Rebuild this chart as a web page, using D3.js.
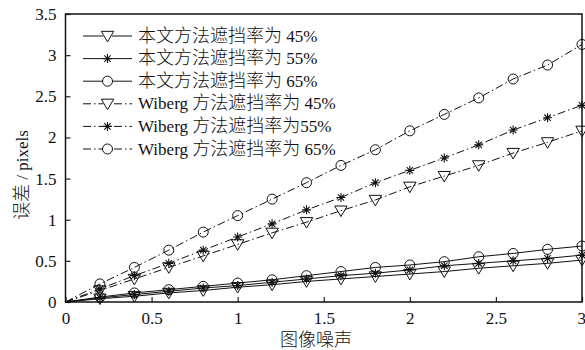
<!DOCTYPE html>
<html>
<head>
<meta charset="utf-8">
<script src="https://cdn.jsdelivr.net/npm/d3@7/dist/d3.min.js"></script>
<style>
  html, body { margin: 0; padding: 0; background: #fff; }
  svg text { font-family: "Liberation Serif", "Noto Sans CJK SC", serif; fill: #111; }
</style>
</head>
<body>
<svg id="chart" width="585" height="350"></svg>
<script>
// Noise levels on the x axis
const noise = [0, 0.2, 0.4, 0.6, 0.8, 1.0, 1.2, 1.4, 1.6, 1.8, 2.0, 2.2, 2.4, 2.6, 2.8, 3.0];

// Reprojection error (pixels) for each method / occlusion rate
const oursOcc45 = [0, 0.04, 0.07, 0.11, 0.14, 0.18, 0.21, 0.25, 0.28, 0.31, 0.34, 0.37, 0.41, 0.44, 0.47, 0.51];
const oursOcc55 = [0, 0.05, 0.09, 0.13, 0.17, 0.20, 0.24, 0.28, 0.32, 0.35, 0.39, 0.44, 0.47, 0.50, 0.53, 0.57];
const oursOcc65 = [0, 0.06, 0.11, 0.15, 0.19, 0.23, 0.27, 0.32, 0.37, 0.42, 0.45, 0.49, 0.55, 0.59, 0.64, 0.68];
const wibergOcc45 = [0, 0.14, 0.28, 0.42, 0.56, 0.70, 0.84, 0.97, 1.11, 1.24, 1.40, 1.53, 1.66, 1.81, 1.94, 2.08];
const wibergOcc55 = [0, 0.16, 0.32, 0.47, 0.63, 0.79, 0.95, 1.12, 1.27, 1.45, 1.60, 1.75, 1.91, 2.09, 2.24, 2.39];
const wibergOcc65 = [0, 0.22, 0.42, 0.63, 0.85, 1.05, 1.25, 1.45, 1.66, 1.85, 2.08, 2.28, 2.48, 2.71, 2.88, 3.13];

const seriesNames = [
  "本文方法遮挡率为 45%",
  "本文方法遮挡率为 55%",
  "本文方法遮挡率为 65%",
  "Wiberg 方法遮挡率为 45%",
  "Wiberg 方法遮挡率为55%",
  "Wiberg 方法遮挡率为 65%"
];
const seriesValues = [oursOcc45, oursOcc55, oursOcc65, wibergOcc45, wibergOcc55, wibergOcc65];
const seriesMarkers = ["triangle", "star", "circle", "triangle", "star", "circle"];
const seriesDashed = [false, false, false, true, true, true];

const xTicks = [0, 0.5, 1, 1.5, 2, 2.5, 3];
const yTicks = [0, 0.5, 1, 1.5, 2, 2.5, 3, 3.5];
const xTitle = "图像噪声";
const yTitle = "误差 / pixels";

const svg = d3.select("#chart");
const margin = { left: 65.5, right: 3, top: 14, bottom: 48 };
const W = 585, H = 350;
const x = d3.scaleLinear().domain([0, 3]).range([margin.left, W - margin.right]);
const y = d3.scaleLinear().domain([0, 3.5]).range([H - margin.bottom, margin.top]);

const dashPattern = "8,3,1.5,3";
const latinSize = 17, cjkSize = 18;

// Write mixed Chinese/Latin text: CJK runs get their own font and size
function mixedText(sel, str) {
  const runs = str.match(/[\u3000-\u9fff\uff00-\uffef]+|[^\u3000-\u9fff\uff00-\uffef]+/g) || [];
  runs.forEach(run => {
    const cjk = /[\u3000-\u9fff\uff00-\uffef]/.test(run);
    sel.append("tspan")
      .style("font-family", cjk ? '"Noto Sans CJK SC", sans-serif' : '"Liberation Serif", serif')
      .style("font-size", (cjk ? cjkSize : latinSize) + "px")
      .style("font-weight", cjk ? 300 : 400)
      .style("white-space", "pre")
      .text(run);
  });
  return sel;
}

// Axes with inward ticks
const gx = svg.append("g").attr("transform", `translate(0,${y(0)})`)
  .call(d3.axisBottom(x).tickValues(xTicks).tickSizeInner(-5).tickSizeOuter(0)
    .tickFormat(d => d3.format("~g")(d)));
gx.select(".domain").remove();
gx.selectAll(".tick line").attr("stroke", "#222").attr("stroke-width", 1.2);
gx.selectAll(".tick text").attr("y", 10).attr("dy", "0.71em")
  .style("font-size", latinSize + "px").attr("fill", "#111");
gx.selectAll(".tick text").filter(d => d === 3).attr("text-anchor", "end").attr("x", 3.5);

const gy = svg.append("g").attr("transform", `translate(${x(0)},0)`)
  .call(d3.axisLeft(y).tickValues(yTicks).tickSizeInner(-5).tickSizeOuter(0)
    .tickFormat(d => d3.format("~g")(d)));
gy.select(".domain").remove();
gy.selectAll(".tick line").attr("stroke", "#222").attr("stroke-width", 1.2);
gy.selectAll(".tick text").attr("x", -9).style("font-size", latinSize + "px").attr("fill", "#111");

// Clip region for plotted data
svg.append("clipPath").attr("id", "plotClip").append("rect")
  .attr("x", x(0)).attr("y", y(3.5) - 8).attr("width", x(3) - x(0) + 8).attr("height", y(0) - y(3.5) + 16);

const line = d3.line().x(d => x(d[0])).y(d => y(d[1]));

function drawMarker(g, type, cx, cy) {
  if (type === "circle") {
    g.append("circle").attr("cx", cx).attr("cy", cy).attr("r", 5)
      .attr("fill", "none").attr("stroke", "#111").attr("stroke-width", 1);
  } else if (type === "triangle") {
    const s = 6.2;
    g.append("path")
      .attr("d", `M${cx - s},${cy - s * 0.75}L${cx + s},${cy - s * 0.75}L${cx},${cy + s * 0.95}Z`)
      .attr("fill", "none").attr("stroke", "#111").attr("stroke-width", 1);
  } else {
    const r = 4.5;
    const p = [];
    for (let k = 0; k < 4; k++) {
      const a = Math.PI / 2 + k * Math.PI / 4;
      p.push(`M${cx - r * Math.cos(a)},${cy - r * Math.sin(a)}L${cx + r * Math.cos(a)},${cy + r * Math.sin(a)}`);
    }
    g.append("path").attr("d", p.join("")).attr("stroke", "#111").attr("stroke-width", 1.1).attr("fill", "none");
  }
}

const plot = svg.append("g").attr("clip-path", "url(#plotClip)");
seriesValues.forEach((vals, i) => {
  const pts = noise.map((n, j) => [n, vals[j]]);
  plot.append("path").datum(pts).attr("d", line)
    .attr("fill", "none").attr("stroke", "#111").attr("stroke-width", 1)
    .attr("stroke-dasharray", seriesDashed[i] ? dashPattern : null);
  const mg = plot.append("g");
  pts.slice(1).forEach(p => drawMarker(mg, seriesMarkers[i], x(p[0]), y(p[1])));
});

// Frame
svg.append("rect").attr("x", x(0)).attr("y", y(3.5))
  .attr("width", x(3) - x(0)).attr("height", y(0) - y(3.5))
  .attr("fill", "none").attr("stroke", "#111").attr("stroke-width", 1.5);

// Legend
const legend = svg.append("g");
const legX0 = 83, legX1 = 132, legY0 = 36, legDy = 22.6;
seriesNames.forEach((name, i) => {
  const ly = legY0 + i * legDy;
  legend.append("line").attr("x1", legX0).attr("x2", legX1).attr("y1", ly).attr("y2", ly)
    .attr("stroke", "#111").attr("stroke-width", 1)
    .attr("stroke-dasharray", seriesDashed[i] ? dashPattern : null);
  const mg = legend.append("g");
  if (seriesMarkers[i] !== "star") {
    mg.append("circle").attr("cx", (legX0 + legX1) / 2).attr("cy", ly).attr("r", 4.5).attr("fill", "#fff");
  }
  drawMarker(mg, seriesMarkers[i], (legX0 + legX1) / 2, ly);
  mixedText(legend.append("text").attr("x", 138).attr("y", ly).attr("dy", "0.35em"), name);
});

// Axis titles
mixedText(svg.append("text").attr("x", 316).attr("y", 346).attr("text-anchor", "middle"), xTitle);
mixedText(svg.append("text").attr("transform", "translate(22,175) rotate(-90)")
  .attr("text-anchor", "middle").attr("dy", "0.35em"), yTitle);
</script>
</body>
</html>
